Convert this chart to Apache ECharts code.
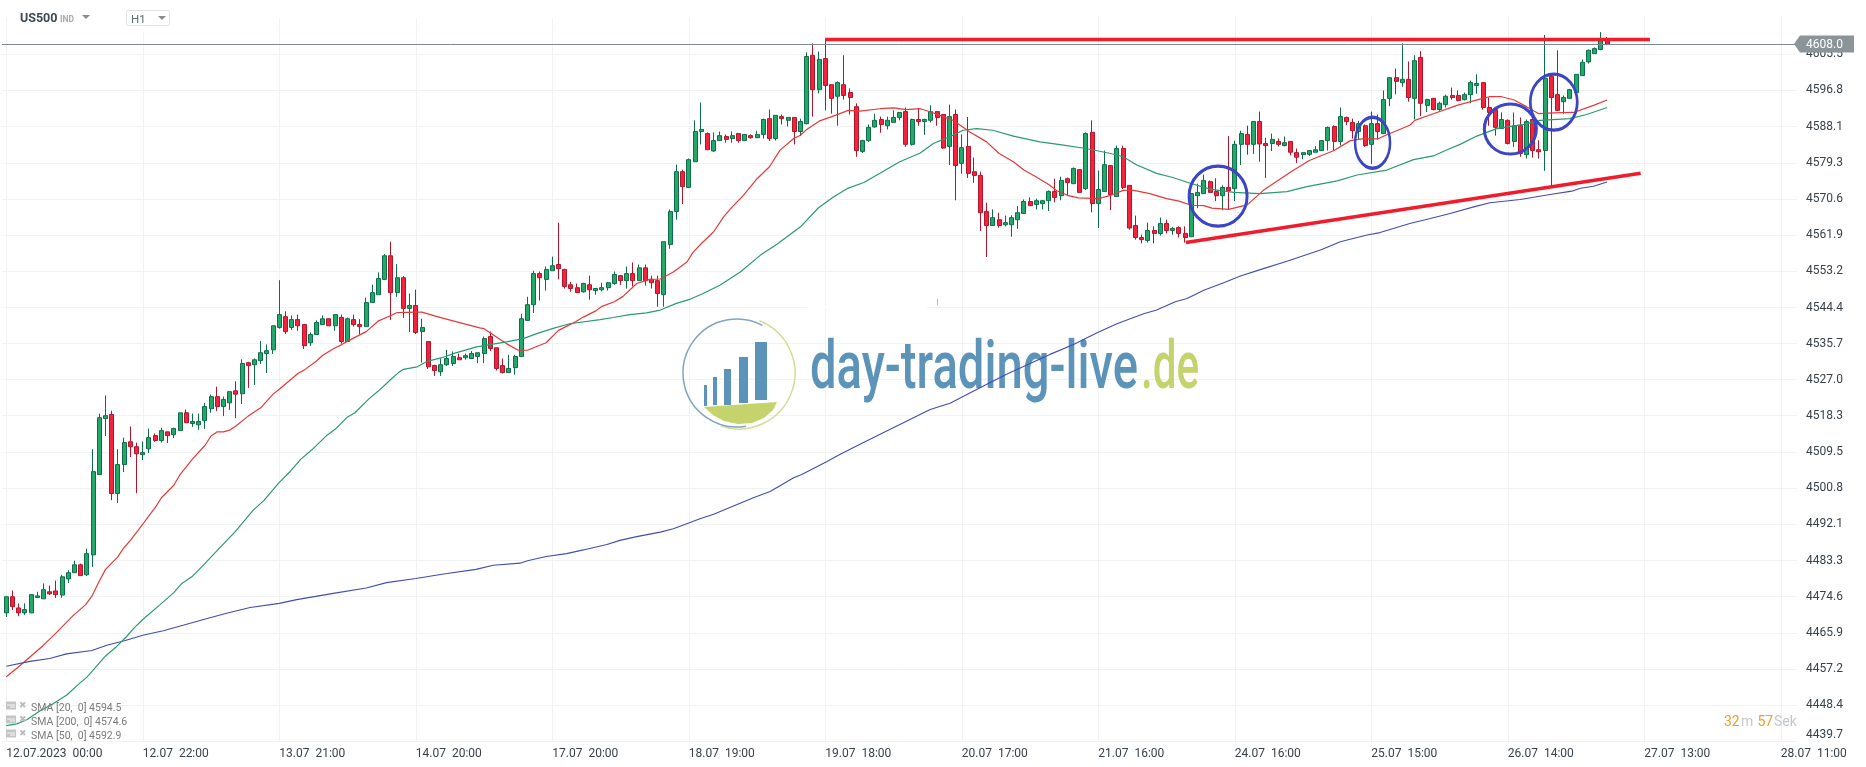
<!DOCTYPE html>
<html lang="en">
<head>
    <meta charset="UTF-8">
    <title>US500 H1</title>
    <script src="https://cdn.jsdelivr.net/npm/echarts@6/dist/echarts.min.js"></script>
    <style>
        html, body { margin: 0; padding: 0; background: #fff; }
        #main { width: 1866px; height: 767px; }
    </style>
</head>
<body>
<div id="main"></div>
<script type="text/javascript">
    // one row per hour bar: open, close, low, high
    var candles = [
        [4470.7,4474.6,4469.7,4474.6],[4474.6,4472.2,4471.4,4476.1],[4471.9,4470.7,4469.9,4473.0],[4470.7,4471.5,4470.2,4473.0],[4470.7,4475.1,4470.7,4475.1],
        [4474.4,4474.8,4474.4,4475.8],[4474.1,4476.3,4474.1,4477.8],[4475.8,4475.3,4475.0,4477.3],[4476.0,4475.1,4474.3,4478.5],[4475.0,4479.4,4474.3,4479.9],
        [4478.9,4480.4,4477.9,4481.0],[4480.4,4482.3,4480.4,4483.3],[4482.3,4479.7,4479.7,4482.6],[4479.9,4485.0,4479.6,4486.2],[4484.7,4504.8,4481.8,4510.2],
        [4504.1,4517.8,4504.1,4518.8],[4517.6,4518.3,4513.4,4523.2],[4518.6,4499.5,4497.9,4519.5],[4499.5,4506.5,4497.2,4510.2],[4506.5,4511.8,4504.7,4513.0],
        [4512.0,4510.8,4508.3,4515.7],[4510.8,4509.1,4499.6,4511.8],[4508.9,4509.4,4507.6,4512.1],[4510.3,4513.0,4509.3,4515.2],[4513.5,4512.3,4512.0,4514.0],
        [4512.3,4514.7,4511.8,4515.4],[4514.4,4513.5,4511.7,4514.4],[4513.7,4515.2,4512.9,4515.4],[4514.7,4519.0,4514.7,4519.0],[4519.0,4516.6,4516.6,4519.8],
        [4516.4,4516.9,4515.6,4518.8],[4516.1,4516.9,4514.9,4518.8],[4517.1,4520.5,4515.1,4521.4],[4520.0,4522.9,4519.0,4523.4],[4522.9,4520.5,4519.4,4525.3],
        [4520.5,4522.2,4518.2,4522.9],[4521.4,4524.1,4519.7,4524.1],[4524.3,4523.5,4517.7,4526.6],[4523.6,4530.9,4521.1,4531.9],[4531.1,4530.4,4525.0,4531.3],
        [4530.6,4531.8,4525.7,4532.1],[4531.6,4533.5,4530.8,4536.3],[4533.3,4534.0,4528.6,4535.5],[4534.2,4540.0,4533.2,4540.0],[4539.6,4542.7,4539.3,4551.0],
        [4542.2,4538.6,4538.0,4543.5],[4539.6,4541.5,4539.0,4542.5],[4541.5,4540.0,4538.8,4542.7],[4540.3,4535.2,4534.4,4540.3],[4535.9,4537.9,4535.1,4538.4],
        [4537.9,4540.8,4537.9,4541.3],[4540.3,4541.7,4540.3,4542.5],[4541.7,4540.0,4540.0,4541.7],[4540.0,4542.7,4538.8,4542.7],[4542.0,4536.2,4535.7,4542.7],
        [4536.2,4541.7,4536.2,4542.0],[4541.5,4540.3,4539.8,4542.7],[4540.3,4539.8,4537.9,4541.6],[4539.8,4545.6,4539.8,4546.8],[4545.6,4548.0,4545.6,4549.9],
        [4547.5,4551.4,4547.5,4552.9],[4551.2,4556.9,4551.2,4557.3],[4556.9,4548.0,4541.4,4560.3],[4548.0,4551.6,4547.0,4554.9],[4551.6,4544.2,4541.9,4552.0],
        [4544.2,4544.9,4538.5,4547.8],[4544.9,4538.4,4538.0,4548.7],[4538.6,4539.6,4531.1,4541.7],[4536.2,4530.1,4529.6,4536.2],[4530.4,4529.2,4527.9,4530.6],
        [4528.9,4530.6,4527.9,4532.1],[4530.6,4532.1,4530.3,4534.2],[4530.9,4532.6,4530.3,4533.8],[4532.3,4531.8,4531.8,4533.3],[4532.3,4532.8,4531.8,4533.3],
        [4532.1,4533.3,4532.1,4533.9],[4532.6,4533.5,4531.0,4533.5],[4533.3,4536.9,4531.0,4537.4],[4537.4,4534.5,4533.9,4538.6],[4534.7,4529.7,4529.2,4534.7],
        [4530.4,4528.7,4528.5,4532.1],[4528.7,4529.7,4528.7,4533.0],[4529.9,4532.6,4528.2,4533.0],[4532.6,4541.7,4532.6,4542.9],[4541.3,4545.1,4541.2,4547.0],
        [4545.1,4552.6,4543.1,4553.3],[4552.6,4551.6,4546.1,4553.1],[4551.2,4553.6,4548.5,4554.3],[4553.3,4554.5,4553.3,4556.7],[4554.8,4553.8,4551.2,4564.9],
        [4553.6,4549.5,4549.0,4553.8],[4549.9,4549.0,4548.2,4550.6],[4549.2,4548.0,4548.0,4550.2],[4548.2,4550.2,4548.0,4550.4],[4549.9,4548.7,4546.3,4552.1],
        [4548.5,4549.0,4547.5,4549.0],[4548.7,4549.2,4548.3,4550.4],[4549.2,4550.4,4548.5,4550.6],[4550.2,4552.4,4549.9,4553.1],[4552.1,4550.9,4549.9,4552.3],
        [4550.9,4552.6,4549.0,4554.3],[4552.6,4550.9,4549.5,4555.3],[4550.9,4554.0,4550.9,4554.8],[4554.0,4550.9,4549.7,4554.8],[4551.2,4550.4,4549.0,4552.1],
        [4550.9,4547.8,4544.6,4552.1],[4547.5,4560.3,4544.6,4560.3],[4559.6,4567.6,4558.6,4568.1],[4567.6,4577.2,4565.6,4578.9],[4577.2,4573.6,4569.4,4577.7],
        [4573.4,4580.1,4573.4,4580.4],[4579.6,4586.9,4579.6,4589.6],[4586.9,4587.4,4583.8,4593.9],[4586.4,4582.5,4582.5,4586.7],[4582.2,4584.7,4582.0,4586.7],
        [4584.7,4585.9,4584.7,4586.9],[4585.7,4585.0,4584.2,4586.2],[4585.2,4585.9,4584.2,4586.9],[4586.4,4584.7,4584.2,4586.4],[4584.7,4586.2,4584.7,4586.2],
        [4585.9,4585.4,4585.2,4586.2],[4585.4,4586.2,4585.4,4587.1],[4586.2,4589.8,4585.2,4590.0],[4590.0,4585.2,4584.6,4592.2],[4585.2,4590.8,4584.7,4590.8],
        [4590.5,4590.0,4588.6,4591.0],[4589.6,4590.3,4588.1,4590.4],[4590.3,4586.9,4583.8,4590.3],[4586.9,4589.3,4585.8,4590.0],[4588.8,4605.0,4588.6,4606.0],
        [4605.3,4597.0,4590.5,4608.2],[4597.0,4604.3,4596.1,4606.2],[4604.5,4598.0,4592.0,4609.4],[4598.2,4594.9,4591.2,4598.2],[4595.4,4598.7,4588.3,4599.0],
        [4598.2,4595.6,4594.6,4605.3],[4596.3,4595.1,4591.0,4597.3],[4592.9,4582.3,4580.8,4593.7],[4582.1,4584.7,4581.7,4584.9],[4584.7,4587.9,4584.4,4588.6],
        [4588.0,4589.6,4587.8,4591.2],[4589.8,4588.6,4586.6,4590.5],[4588.3,4589.6,4587.4,4590.5],[4589.1,4590.3,4589.1,4592.0],[4590.3,4591.5,4589.6,4591.5],
        [4591.7,4583.8,4583.2,4592.7],[4583.8,4589.8,4583.5,4590.0],[4589.8,4589.3,4588.3,4592.4],[4589.3,4589.8,4586.1,4590.0],[4589.6,4591.7,4589.1,4593.2],
        [4591.7,4590.3,4588.3,4591.7],[4591.0,4582.9,4582.7,4591.0],[4583.3,4590.5,4578.8,4593.4],[4591.0,4578.7,4570.3,4592.2],[4579.2,4583.0,4576.7,4586.2],
        [4583.3,4576.8,4575.7,4590.4],[4577.2,4576.3,4574.5,4580.6],[4576.3,4567.3,4562.9,4577.2],[4567.6,4564.2,4556.6,4569.7],[4564.2,4566.1,4564.2,4568.1],
        [4565.6,4564.2,4563.7,4567.3],[4564.4,4564.9,4564.0,4566.6],[4564.4,4566.1,4561.5,4566.7],[4565.6,4567.3,4563.4,4568.9],[4567.1,4570.0,4567.1,4570.5],
        [4570.0,4569.0,4569.0,4571.0],[4569.3,4570.2,4568.1,4570.7],[4569.5,4570.2,4568.1,4570.4],[4570.2,4572.4,4567.7,4572.7],[4572.4,4571.0,4569.8,4575.5],
        [4571.4,4575.1,4570.3,4576.0],[4575.5,4574.6,4571.4,4575.8],[4574.3,4578.0,4574.3,4578.2],[4577.7,4572.2,4572.2,4577.7],[4573.1,4586.4,4572.8,4586.7],
        [4586.7,4569.5,4567.4,4589.6],[4569.5,4572.9,4563.6,4577.5],[4572.4,4578.9,4572.4,4582.3],[4578.7,4571.7,4567.9,4578.7],[4571.2,4582.8,4571.2,4583.5],
        [4582.8,4573.4,4573.0,4583.5],[4573.9,4563.6,4563.2,4573.9],[4564.2,4561.3,4560.8,4566.6],[4561.3,4560.8,4559.9,4562.0],[4560.6,4563.0,4560.1,4564.9],
        [4563.0,4562.3,4559.9,4564.0],[4562.3,4564.7,4561.8,4566.1],[4564.7,4563.0,4562.3,4565.6],[4563.0,4563.5,4562.0,4563.9],[4563.7,4562.3,4561.3,4564.0],
        [4562.3,4561.3,4560.1,4564.0],[4561.5,4571.9,4561.5,4572.0],[4571.4,4572.2,4568.4,4574.3],[4571.9,4575.1,4571.9,4576.5],[4574.8,4572.2,4572.2,4575.1],
        [4572.4,4571.4,4570.1,4575.6],[4571.4,4573.4,4567.9,4573.9],[4573.4,4572.6,4568.1,4585.8],[4573.1,4583.8,4570.1,4584.7],[4583.8,4586.4,4578.8,4587.1],
        [4586.2,4583.8,4581.3,4588.3],[4583.8,4589.3,4581.5,4589.3],[4589.3,4583.9,4579.6,4591.7],[4584.0,4583.5,4575.7,4585.4],[4584.0,4585.0,4582.2,4586.4],
        [4584.5,4583.8,4583.3,4585.2],[4583.5,4584.2,4583.3,4585.7],[4584.5,4581.9,4581.1,4584.5],[4581.8,4580.7,4579.3,4582.8],[4581.3,4581.8,4580.2,4581.9],
        [4581.4,4582.3,4581.0,4582.3],[4581.9,4582.5,4581.9,4583.4],[4582.3,4584.7,4582.3,4584.7],[4584.7,4587.9,4582.3,4588.1],[4588.1,4584.5,4582.3,4588.4],
        [4584.5,4590.5,4583.5,4592.7],[4590.3,4589.3,4588.4,4590.5],[4589.1,4587.1,4585.2,4590.0],[4586.9,4588.8,4585.0,4589.5],[4588.3,4583.5,4583.2,4588.6],
        [4583.8,4588.8,4579.1,4591.7],[4588.8,4586.9,4585.0,4591.0],[4586.4,4594.6,4586.4,4596.8],[4594.9,4599.9,4593.0,4600.0],[4599.9,4599.0,4595.9,4602.1],
        [4598.7,4599.5,4597.7,4608.2],[4599.5,4595.1,4594.1,4603.8],[4594.9,4604.0,4589.8,4605.3],[4604.8,4593.7,4590.6,4606.3],[4593.2,4594.6,4591.6,4594.8],
        [4594.9,4592.2,4592.0,4594.9],[4592.2,4593.7,4591.9,4594.1],[4593.4,4595.4,4592.7,4595.8],[4595.6,4595.1,4594.6,4597.5],[4595.6,4594.4,4594.2,4596.8],
        [4594.6,4595.8,4594.4,4596.3],[4595.8,4598.7,4593.7,4599.2],[4598.0,4598.5,4596.0,4600.7],[4598.7,4592.7,4592.2,4598.8],[4592.7,4591.5,4588.3,4595.1],
        [4592.2,4587.9,4585.9,4592.2],[4587.6,4589.8,4587.5,4591.5],[4589.6,4584.0,4583.8,4589.8],[4584.5,4588.3,4583.2,4591.5],[4588.3,4581.6,4580.8,4590.3],
        [4581.3,4589.3,4580.4,4589.8],[4589.8,4582.3,4580.6,4590.0],[4582.5,4582.0,4580.4,4584.8],[4582.3,4599.7,4577.4,4610.2],[4600.2,4595.1,4573.8,4600.9],
        [4595.8,4592.0,4592.0,4606.5],[4594.1,4595.1,4591.2,4595.6],[4594.9,4597.0,4594.9,4597.2],[4596.3,4600.7,4596.3,4600.7],[4600.4,4603.6,4600.4,4604.3],
        [4603.7,4606.5,4603.3,4606.7],[4605.7,4606.9,4605.7,4607.2],[4606.7,4608.8,4606.5,4610.9],[4609.1,4608.0,4607.7,4609.7]
    ];

    // moving averages, [bar, value]
    var sma20 = [
        [0,4455.3],[2,4457.7],[4,4460.3],[6,4462.9],[8,4465.8],[10.8,4470.1],[12.8,4472.7],[13.9,4475.0],[15,4478.4],[16,4481.2],[17.9,4484.1],[18.9,4486.3],
        [20,4488.2],[22,4492.1],[23,4494.2],[24,4496.1],[25,4498.5],[27,4501.5],[28,4504.1],[30,4507.8],[32,4511.1],[33,4513.4],[34,4514.4],[35,4514.4],[36,4514.8],
        [37,4515.8],[39,4518.2],[41,4520.2],[43,4523.5],[44,4524.7],[47,4528.5],[48,4529.3],[50,4531.5],[51,4532.9],[53,4534.7],[54,4535.4],[55,4536.3],[58,4538.6],
        [60,4541.2],[62,4542.5],[63,4543.2],[66,4543.3],[67,4543.3],[69,4542.4],[72,4541.2],[74,4540.4],[76.3,4539.5],[77,4539.3],[79,4537.3],[80.6,4535.7],[82.5,4534.1],
        [84,4534.1],[85,4534.7],[87,4535.9],[89,4538.9],[91.4,4540.7],[93,4542.1],[95,4543.6],[96,4544.7],[98,4545.8],[99.4,4547.1],[101.6,4550.2],[103.7,4551.2],[105.4,4551.3],
        [107.5,4553.0],[109.7,4555.4],[110.7,4557.8],[112,4559.8],[114,4562.7],[115.6,4566.3],[117,4568.7],[118.8,4571.5],[121,4575.5],[123,4578.4],[124.7,4582.4],[126.9,4585.2],
        [128,4586.0],[129,4587.4],[131,4589.4],[133.6,4590.8],[135.7,4592.0],[137.6,4591.8],[140.8,4592.4],[143,4592.6],[145,4592.2],[147.3,4592.4],[149,4591.6],[152.6,4589.6],
        [155.3,4586.8],[158,4584.4],[160,4581.6],[162.3,4579.6],[164,4577.6],[166,4575.9],[168,4574.1],[169.3,4572.6],[171,4571.5],[172.8,4570.9],[176,4570.7],[178,4571.5],
        [180,4572.7],[181.7,4572.7],[184.3,4571.9],[187,4570.7],[189,4570.1],[191,4569.1],[193,4569.0],[194.3,4568.4],[197,4568.1],[200,4569.2],[202.6,4572.7],[207,4577.1],
        [210,4579.9],[214,4582.3],[216.6,4584.7],[218.8,4585.2],[221,4585.1],[222.3,4586.0],[226.2,4588.4],[227,4589.6],[230,4591.2],[233.8,4593.2],[237.5,4594.7],[239,4595.3],
        [241,4595.3],[243,4594.5],[245,4592.9],[247,4591.2],[249.4,4591.4],[252.6,4591.5],[255.8,4593.2],[258,4594.5]
    ];
    var sma50 = [
        [0,4443.5],[1.7,4443.9],[3.3,4444.9],[5.4,4447.0],[7.6,4448.8],[9.7,4450.8],[11.9,4453.8],[13,4455.2],[14.6,4457.9],[16,4460.3],[17.8,4462.6],[19.4,4465.0],
        [20.5,4466.9],[22,4469.1],[24.8,4472.7],[27,4475.6],[28.3,4477.8],[29.9,4479.4],[32,4482.6],[33.9,4485.6],[36.9,4490.3],[39.8,4495.5],[41.5,4497.8],[44,4502.2],
        [45.8,4504.9],[47.4,4507.7],[49.2,4510.0],[51.7,4513.6],[53,4515.0],[55,4518.0],[56.2,4519.0],[58.4,4522.3],[60,4524.3],[62,4527.1],[63.2,4528.7],[64,4529.5],
        [66.2,4530.1],[67.8,4531.4],[70.2,4532.3],[72.3,4533.4],[75.8,4534.9],[80.6,4536.1],[83.3,4536.9],[85.5,4538.1],[88,4539.3],[90.8,4540.5],[95.7,4541.5],[97.8,4542.0],
        [100.5,4542.7],[103.2,4543.1],[105.4,4543.8],[108,4545.4],[110,4546.3],[112.3,4547.8],[115,4549.8],[118.3,4553.0],[121.5,4557.0],[124.2,4559.7],[128,4563.9],[130.9,4568.5],
        [133.3,4571.1],[135.5,4573.1],[138.2,4574.6],[140.8,4576.8],[144,4579.6],[147.3,4581.7],[149.4,4584.0],[152,4585.6],[154.2,4587.2],[156.4,4587.6],[159,4587.2],[162.3,4585.8],
        [166.6,4584.4],[170.4,4583.6],[174,4582.8],[178,4581.6],[180,4580.8],[182.2,4578.8],[185.4,4576.8],[188,4575.8],[190.8,4574.4],[194,4573.0],[197.8,4572.2],[202,4571.9],
        [206.4,4572.4],[209.6,4573.6],[214.5,4575.0],[217.7,4576.4],[222.5,4577.6],[226.8,4580.1],[230,4581.0],[232.2,4582.5],[234.3,4583.8],[237,4585.8],[240.2,4587.6],[244.5,4588.6],
        [247.2,4589.6],[252,4590.0],[254.7,4591.0],[258,4592.7]
    ];
    var sma200 = [
        [0,4457.8],[3.8,4459.0],[7,4459.7],[9.7,4460.8],[13.8,4461.6],[16.2,4462.9],[18.9,4463.9],[22,4465.3],[25.3,4466.4],[28.5,4467.7],[31.8,4469.1],[35.5,4470.6],[39.3,4472.0],
        [44,4473.0],[46.8,4473.9],[52.7,4475.4],[58,4476.7],[61.3,4478.0],[66,4479.0],[70.5,4480.1],[75.7,4481.2],[78.5,4482.2],[82.8,4482.7],[84,4483.3],[87,4484.3],[90.3,4485.0],
        [93,4485.9],[96.8,4487.2],[98.9,4488.2],[101.6,4489.1],[105.4,4490.2],[107.5,4491.0],[110.2,4492.5],[111.8,4493.4],[114,4494.5],[117.2,4496.5],[120.4,4498.5],[123.1,4500.0],
        [126.9,4503.3],[128.2,4504.1],[132.2,4507.2],[134.4,4509.0],[137.6,4511.4],[142.7,4515.2],[148.9,4519.8],[152.1,4521.3],[157,4525.1],[161.2,4528.3],[165,4530.9],[168.2,4533.1],
        [172,4535.5],[175.8,4538.3],[179,4540.5],[183.3,4542.9],[185.4,4543.8],[188.4,4545.8],[190.3,4546.6],[193,4548.6],[196.2,4550.4],[198.9,4552.0],[202.6,4553.8],[206.4,4555.6],
        [211.8,4558.3],[215,4560.3],[219.3,4561.9],[221.4,4562.5],[226.2,4564.7],[229.5,4565.9],[232.7,4567.1],[236.5,4568.7],[239.1,4569.7],[244,4570.5],[248.8,4571.7],
        [252.3,4572.5],[253.7,4573.2],[255.8,4573.7],[258,4574.7]
    ];

    // hand drawn trend lines and circles from the screenshot
    var resistance = [[132,4609.1],[264.9,4609.1]];
    var support = [[190.1,4560.1],[263.4,4576.8]];
    var circleBars = [195.3,220.2,242.4,249.4];
    var circleVals = [4571.3,4584.2,4587.5,4594.0];
    var circleSizes = [[58,60],[35,51],[52,50],[47,56]];

    var lastPrice = 4608.0;
    var yTicks = [4439.7,4448.4,4457.2,4465.9,4474.6,4483.3,4492.1,4500.8,4509.5,4518.3,4527.0,4535.7,4544.4,4553.2,4561.9,4570.6,4579.3,4588.1,4596.8,4605.5];
    var xTicks = [0,22,44,66,88,110,132,154,176,198,220,242,264,286];
    var xLabels = ['12.07.2023  00:00','12.07  22:00','13.07  21:00','14.07  20:00','17.07  20:00','18.07  19:00','19.07  18:00','20.07  17:00','21.07  16:00','24.07  16:00','25.07  15:00','26.07  14:00','27.07  13:00','28.07  11:00'];
    var smaLegend = ['SMA [20,  0] 4594.5','SMA [200,  0] 4574.6','SMA [50,  0] 4592.9'];

    var FONT = 'Roboto, sans-serif';
    var BLUE_LOGO = '#5b93b9';
    var GREEN_LOGO = '#c4d36b';

    var myChart = echarts.init(document.getElementById('main'), null, {renderer: 'canvas'});

    function smaSeries(name, data, color, width) {
        return {
            name: name,
            type: 'line',
            data: data,
            showSymbol: false,
            silent: true,
            z: 4,
            lineStyle: {color: color, width: width}
        };
    }

    function trendSeries(name, data) {
        return {
            name: name,
            type: 'line',
            data: data,
            showSymbol: false,
            silent: true,
            z: 6,
            lineStyle: {color: '#f01c2c', width: 3.5, cap: 'butt'}
        };
    }

    // logo behind the candles
    function logoElements() {
        var bars = [[704,385,707,406],[713,377,717,405],[724,369,731,405],[739,357,748,403],[755,342,767,400]];
        var els = [
            {type: 'arc', z: 1, shape: {cx: 739, cy: 373, r: 56, startAngle: -1.2, endAngle: 1.9}, style: {stroke: '#d3dc9a', lineWidth: 1.5, fill: null}},
            {type: 'arc', z: 1, shape: {cx: 737, cy: 373, r: 54, startAngle: 1.4, endAngle: 5.2}, style: {stroke: '#7ea5c2', lineWidth: 1.5, fill: null}},
            {type: 'polygon', z: 1, shape: {points: [[704,407],[777,402],[773,410],[764,418],[752,423],[738,424],[724,421],[713,415]]}, style: {fill: GREEN_LOGO}},
            {type: 'text', z: 1, x: 810, y: 371, scaleX: 0.715, style: {text: 'day-trading-live', fill: BLUE_LOGO, font: '500 66px ' + FONT, verticalAlign: 'middle'}},
            {type: 'text', z: 1, x: 1141, y: 371, scaleX: 0.64, style: {text: '.de', fill: GREEN_LOGO, font: '500 66px ' + FONT, verticalAlign: 'middle'}},
            // gap in the top grid line and the stray mark above it
            {type: 'rect', z: 1, shape: {x: 807, y: 305, width: 120, height: 4}, style: {fill: '#fff'}},
            {type: 'rect', z: 1, shape: {x: 937, y: 299, width: 1, height: 6}, style: {fill: '#b5b5b5'}}
        ];
        bars.forEach(function (b) {
            els.push({type: 'rect', z: 1, shape: {x: b[0], y: b[1], width: b[2] - b[0], height: b[3] - b[1]}, style: {fill: BLUE_LOGO}});
        });
        return els;
    }

    // toolbar, indicator list, countdown
    function overlayElements() {
        var els = [
            {type: 'rect', z: 50, shape: {x: 120, y: 10, width: 55, height: 22}, style: {fill: '#fff'}},
            {type: 'text', z: 51, x: 20, y: 19, style: {text: 'US500', fill: '#3d4a52', font: 'bold 12.5px ' + FONT, verticalAlign: 'middle'}},
            {type: 'text', z: 51, x: 60, y: 19.5, style: {text: 'IND', fill: '#a9a9a9', font: 'bold 8.5px ' + FONT, verticalAlign: 'middle'}},
            {type: 'polygon', z: 51, shape: {points: [[82,15],[90,15],[86,19]]}, style: {fill: '#8b8b8b'}},
            {type: 'rect', z: 51, shape: {x: 126.5, y: 10.5, width: 43, height: 15, r: 2}, style: {fill: '#fff', stroke: '#e3e3e3', lineWidth: 1}},
            {type: 'text', z: 52, x: 131, y: 20, style: {text: 'H1', fill: '#5f6b72', font: '11.5px ' + FONT, verticalAlign: 'middle'}},
            {type: 'polygon', z: 52, shape: {points: [[158,16],[166,16],[162,20]]}, style: {fill: '#8b8b8b'}},
            {type: 'text', z: 51, x: 1724, y: 722, style: {text: '32', fill: '#f59a23', font: '14px ' + FONT, verticalAlign: 'middle'}},
            {type: 'text', z: 51, x: 1741, y: 722, style: {text: 'm', fill: '#c5c8ca', font: '14px ' + FONT, verticalAlign: 'middle'}},
            {type: 'text', z: 51, x: 1757.5, y: 722, style: {text: '57', fill: '#f59a23', font: '14px ' + FONT, verticalAlign: 'middle'}},
            {type: 'text', z: 51, x: 1774, y: 722, style: {text: 'Sek', fill: '#c5c8ca', font: '14px ' + FONT, verticalAlign: 'middle'}}
        ];
        smaLegend.forEach(function (txt, i) {
            var y = 707.5 + i * 14;
            els.push({type: 'rect', z: 51, shape: {x: 6, y: y - 6, width: 10, height: 8}, style: {fill: '#c4c4c4'}});
            els.push({type: 'rect', z: 52, shape: {x: 7, y: y - 3, width: 8, height: 1}, style: {fill: '#f4f4f4'}});
            els.push({type: 'rect', z: 52, shape: {x: 10, y: y - 1, width: 5, height: 1}, style: {fill: '#f4f4f4'}});
            els.push({type: 'text', z: 51, x: 19, y: y - 2, style: {text: '\u2716', fill: '#bdbdbd', font: '9px "DejaVu Sans"', verticalAlign: 'middle'}});
            els.push({type: 'text', z: 51, x: 31, y: y + 0.5, style: {text: txt, fill: '#7b7b7b', font: '10.5px ' + FONT, verticalAlign: 'middle'}});
        });
        return els;
    }

    var option = {
        animation: false,
        backgroundColor: '#fff',
        grid: {left: 2, right: 69, top: 18, bottom: 25.7},
        xAxis: {
            type: 'value',
            min: -0.69,
            max: 288.6,
            axisLine: {show: false},
            axisTick: {show: false, customValues: xTicks},
            splitLine: {show: true, lineStyle: {color: '#f1f2f3', width: 1}},
            axisLabel: {
                customValues: xTicks,
                align: 'left',
                margin: 6.5,
                hideOverlap: false,
                color: '#38424a',
                fontFamily: FONT,
                fontSize: 12,
                formatter: function (value) {
                    return xLabels[xTicks.indexOf(value)];
                }
            }
        },
        yAxis: {
            type: 'value',
            position: 'right',
            min: 4439.7,
            max: 4614.3,
            axisLine: {show: false},
            axisTick: {show: false, customValues: yTicks},
            splitLine: {show: true, lineStyle: {color: '#f1f2f3', width: 1}},
            axisLabel: {
                customValues: yTicks,
                margin: 9,
                padding: [5, 0, 0, 0],
                verticalAlignMinLabel: 'bottom',
                color: '#38424a',
                fontFamily: FONT,
                fontSize: 12,
                formatter: function (value) {
                    return value.toFixed(1);
                }
            }
        },
        series: [
            {
                name: 'US500',
                type: 'candlestick',
                barWidth: 4.5,
                silent: true,
                z: 3,
                data: candles.map(function (c, i) {
                    return [i, c[0], c[1], c[2], c[3]];
                }),
                itemStyle: {
                    color: '#22a869',
                    color0: '#f5223d',
                    borderColor: '#0f6e4a',
                    borderColor0: '#b0162c',
                    borderWidth: 1
                },
                markLine: {
                    silent: true,
                    symbol: 'none',
                    animation: false,
                    label: {show: false},
                    lineStyle: {color: '#7c8c8e', width: 1, type: 'solid'},
                    data: [{yAxis: lastPrice}]
                }
            },
            smaSeries('SMA 20', sma20, '#e5393a', 1.2),
            smaSeries('SMA 200', sma200, '#414cb4', 1.1),
            smaSeries('SMA 50', sma50, '#2a9a72', 1.2),
            trendSeries('resistance', resistance),
            trendSeries('support', support),
            {
                name: 'circles',
                type: 'scatter',
                silent: true,
                z: 7,
                symbol: 'circle',
                data: circleBars.map(function (b, i) {
                    return {value: [b, circleVals[i]], symbolSize: circleSizes[i]};
                }),
                itemStyle: {color: 'rgba(0,0,0,0)', borderColor: '#3b45c6', borderWidth: 3, opacity: 1}
            }
        ],
        graphic: {elements: logoElements().concat(overlayElements())}
    };

    myChart.setOption(option);

    // price flag sits on the last price, needs the y scale
    var py = myChart.convertToPixel({yAxisIndex: 0}, lastPrice);
    myChart.setOption({
        graphic: {
            elements: logoElements().concat(overlayElements()).concat([
                {type: 'polygon', z: 60, shape: {points: [[1794,py],[1800,py - 8.5],[1854,py - 8.5],[1854,py + 8.5],[1800,py + 8.5]]}, style: {fill: '#8a9499'}},
                {type: 'text', z: 61, x: 1806, y: py + 0.5, style: {text: lastPrice.toFixed(1), fill: '#fff', font: '12px ' + FONT, verticalAlign: 'middle'}}
            ])
        }
    });
</script>
</body>
</html>
